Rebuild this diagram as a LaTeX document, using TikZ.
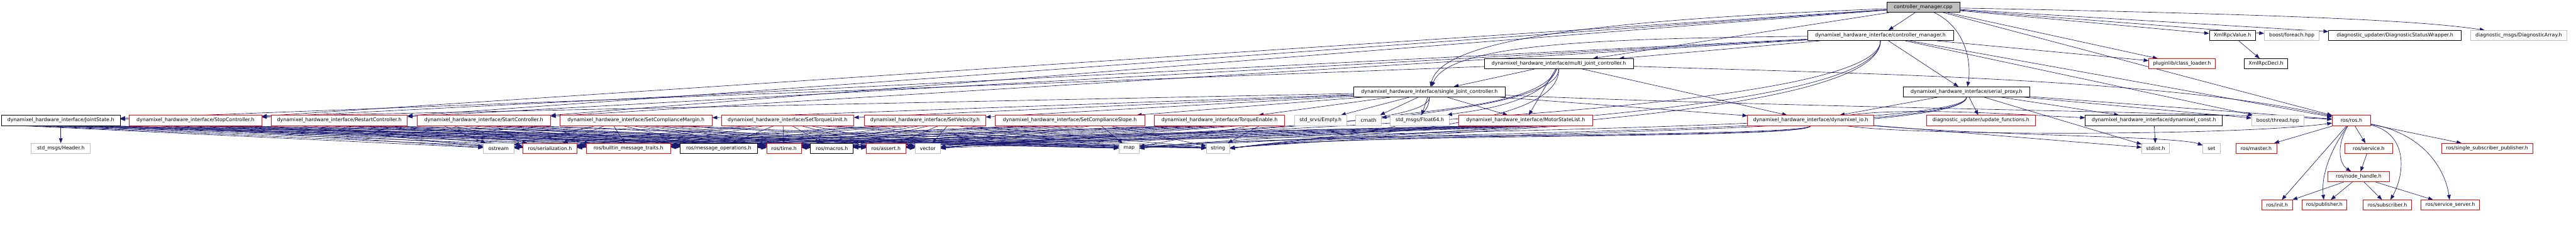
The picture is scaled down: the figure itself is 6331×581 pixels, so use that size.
\documentclass[tikz,border=0pt]{standalone}
\usepackage{fontspec}
\setmainfont{DejaVu Sans}
\usetikzlibrary{arrows.meta}
\pgfdeclarelayer{background}
\pgfsetlayers{background,main}
\definecolor{edgeblue}{HTML}{191970}
\definecolor{truncred}{HTML}{FF0000}
\definecolor{undocgray}{HTML}{BFBFBF}
\definecolor{rootfill}{HTML}{BFBFBF}
\tikzset{
  filebox/.style={draw=black,fill=white,line width=1.1pt,minimum height=25pt,
    inner sep=0pt,font=\fontsize{12.2}{14}\selectfont},
  docfile/.style={filebox},
  truncfile/.style={filebox,draw=truncred},
  extfile/.style={filebox,draw=undocgray},
  rootfile/.style={filebox,fill=rootfill},
  dep/.style={-{Triangle[length=12pt,width=9pt]},edgeblue,line width=1pt}
}
\newcommand{\hdr}[6]{%
  \node[#1,minimum width=#5pt] (#2) at (#3,#4) {#6};
}
\newcommand{\stdlink}[3]{%
  \draw[dep] (#1.south) .. controls +(0,#3) and +(300,-40) .. (#2.east);
}

\begin{document}
\begin{tikzpicture}[x=1pt,y=-1pt]
  \useasboundingbox (0,0) rectangle (6331,581);

  % Root file and its direct headers.
  \hdr{rootfile}{cpp}{4726.5}{18}{179}{controller\_manager.cpp}
  \hdr{docfile}{ctrlh}{4621.5}{87.5}{359}{dynamixel\_hardware\_interface/controller\_manager.h}
  \hdr{docfile}{xmlval}{5486.5}{87.5}{113}{XmlRpcValue.h}
  \hdr{extfile}{foreach}{5632.5}{87.5}{135}{boost/foreach.hpp}
  \hdr{docfile}{dsw}{5886}{87.5}{326}{diagnostic\_updater/DiagnosticStatusWrapper.h}
  \hdr{extfile}{darray}{6190}{87.5}{236}{diagnostic\_msgs/DiagnosticArray.h}

  % Controllers and proxy.
  \hdr{docfile}{multi}{3831}{157}{366}{dynamixel\_hardware\_interface/multi\_joint\_controller.h}
  \hdr{truncfile}{plugin}{5362.5}{157}{163}{pluginlib/class\_loader.h}
  \hdr{docfile}{xmldecl}{5569}{157}{106}{XmlRpcDecl.h}
  \hdr{docfile}{single}{3513}{226.5}{372}{dynamixel\_hardware\_interface/single\_joint\_controller.h}
  \hdr{docfile}{serial}{4833}{226.5}{310}{dynamixel\_hardware\_interface/serial\_proxy.h}

  % Messages, services and helpers.
  \hdr{docfile}{js}{149.5}{296.5}{291}{dynamixel\_hardware\_interface/JointState.h}
  \hdr{truncfile}{stop}{480.5}{296.5}{325}{dynamixel\_hardware\_interface/StopController.h}
  \hdr{truncfile}{restart}{834}{296.5}{334}{dynamixel\_hardware\_interface/RestartController.h}
  \hdr{truncfile}{start}{1189}{296.5}{328}{dynamixel\_hardware\_interface/StartController.h}
  \hdr{truncfile}{scm}{1563}{296.5}{374}{dynamixel\_hardware\_interface/SetComplianceMargin.h}
  \hdr{truncfile}{stl}{1935.5}{296.5}{325}{dynamixel\_hardware\_interface/SetTorqueLimit.h}
  \hdr{truncfile}{svel}{2273.5}{296.5}{297}{dynamixel\_hardware\_interface/SetVelocity.h}
  \hdr{truncfile}{scs}{2629}{296.5}{368}{dynamixel\_hardware\_interface/SetComplianceSlope.h}
  \hdr{truncfile}{ten}{2997}{296.5}{320}{dynamixel\_hardware\_interface/TorqueEnable.h}
  \hdr{extfile}{empty}{3245.5}{296.5}{129}{std\_srvs/Empty.h}
  \hdr{extfile}{cmath}{3363.5}{296.5}{63}{cmath}
  \hdr{extfile}{float}{3489.5}{296.5}{145}{std\_msgs/Float64.h}
  \hdr{truncfile}{msl}{3749.5}{296.5}{329}{dynamixel\_hardware\_interface/MotorStateList.h}
  \hdr{truncfile}{dynio}{4450}{296.5}{310}{dynamixel\_hardware\_interface/dynamixel\_io.h}
  \hdr{truncfile}{upd}{4868.5}{296.5}{267}{diagnostic\_updater/update\_functions.h}
  \hdr{docfile}{dconst}{5293.5}{296.5}{337}{dynamixel\_hardware\_interface/dynamixel\_const.h}
  \hdr{extfile}{bthread}{5598}{296.5}{128}{boost/thread.hpp}
  \hdr{truncfile}{ros}{5779}{296.5}{94}{ros/ros.h}

  % Leaf headers.
  \hdr{extfile}{header}{149.5}{365.5}{145}{std\_msgs/Header.h}
  \hdr{extfile}{ostream}{1225.5}{365.5}{75}{ostream}
  \hdr{truncfile}{ser}{1351.5}{365.5}{133}{ros/serialization.h}
  \hdr{truncfile}{bmt}{1544.5}{365.5}{207}{ros/builtin\_message\_traits.h}
  \hdr{docfile}{mops}{1766.5}{365.5}{189}{ros/message\_operations.h}
  \hdr{truncfile}{rtime}{1927}{365.5}{86}{ros/time.h}
  \hdr{docfile}{macros}{2044.5}{365.5}{105}{ros/macros.h}
  \hdr{truncfile}{rassert}{2177.5}{365.5}{97}{ros/assert.h}
  \hdr{extfile}{vector}{2280}{365.5}{62}{vector}
  \hdr{extfile}{map}{2775}{365.5}{50}{map}
  \hdr{extfile}{string}{2993.5}{365.5}{57}{string}
  \hdr{extfile}{stdint}{5298}{365.5}{68}{stdint.h}
  \hdr{extfile}{set}{5435}{365.5}{42}{set}
  \hdr{truncfile}{master}{5545}{365.5}{100}{ros/master.h}
  \hdr{truncfile}{service}{5821.5}{365.5}{117}{ros/service.h}
  \hdr{truncfile}{ssp}{6112.5}{365.5}{225}{ros/single\_subscriber\_publisher.h}
  \hdr{truncfile}{nh}{5797}{435.5}{152}{ros/node\_handle.h}
  \hdr{truncfile}{init}{5596.5}{505}{75}{ros/init.h}
  \hdr{truncfile}{pub}{5712.5}{505}{111}{ros/publisher.h}
  \hdr{truncfile}{sub}{5867.5}{505}{119}{ros/subscriber.h}
  \hdr{truncfile}{srvserver}{6022}{505}{144}{ros/service\_server.h}

  \begin{pgfonlayer}{background}
  \fill[white] (0,0) rectangle (6331,581);

  % controller_manager.cpp
  \draw[dep] (cpp) -- (ctrlh);
  \draw[dep] (cpp) .. controls (4835,70) and (4845,160) .. (serial);
  \draw[dep] (cpp) -- (multi);
  \draw[dep] (cpp) .. controls (3900,50) and (3540,100) .. (single);
  \draw[dep] (cpp) -- (stop);
  \draw[dep] (cpp) -- (restart);
  \draw[dep] (cpp) -- (start);
  \draw[dep] (cpp) -- (plugin);
  \draw[dep] (cpp) -- (ros);
  \draw[dep] (cpp) -- (xmlval);
  \draw[dep] (cpp) -- (foreach);
  \draw[dep] (cpp) -- (dsw);
  \draw[dep] (cpp) .. controls (5600,35) and (5950,50) .. (darray);

  % controller_manager.h
  \draw[dep] (ctrlh) -- (multi);
  \draw[dep] (ctrlh) .. controls (3900,95) and (3560,110) .. (single);
  \draw[dep] (ctrlh) -- (serial);
  \draw[dep] (ctrlh) -- (stop);
  \draw[dep] (ctrlh) -- (restart);
  \draw[dep] (ctrlh) -- (start);
  \draw[dep] (ctrlh) -- (plugin);
  \draw[dep] (ctrlh) -- (ros);
  \draw[dep] (ctrlh) -- (bthread);
  \stdlink{ctrlh}{vector}{200}
  \stdlink{ctrlh}{map}{200}
  \stdlink{ctrlh}{string}{200}

  % multi_joint_controller.h
  \draw[dep] (multi) -- (single);
  \draw[dep] (multi) -- (js);
  \draw[dep] (multi) .. controls (3790,260) and (3500,270) .. (cmath);
  \draw[dep] (multi) .. controls (3790,260) and (3600,275) .. (float);
  \draw[dep] (multi) -- (msl);
  \draw[dep] (multi) -- (dynio);
  \draw[dep] (multi) .. controls (4500,180) and (5300,190) .. (ros);
  \stdlink{multi}{vector}{150}
  \stdlink{multi}{string}{150}

  % single_joint_controller.h
  \draw[dep] (single) -- (js);
  \draw[dep] (single) -- (scm);
  \draw[dep] (single) -- (stl);
  \draw[dep] (single) -- (svel);
  \draw[dep] (single) -- (scs);
  \draw[dep] (single) -- (ten);
  \draw[dep] (single) -- (empty);
  \draw[dep] (single) -- (cmath);
  \draw[dep] (single) -- (float);
  \draw[dep] (single) -- (msl);
  \draw[dep] (single) -- (dynio);
  \draw[dep] (single) .. controls (4400,265) and (5400,275) .. (ros);
  \stdlink{single}{vector}{90}
  \stdlink{single}{string}{90}

  % serial_proxy.h
  \draw[dep] (serial) -- (upd);
  \draw[dep] (serial) -- (dynio);
  \draw[dep] (serial) -- (dconst);
  \draw[dep] (serial) -- (bthread);
  \draw[dep] (serial) -- (ros);
  \draw[dep] (serial) -- (stdint);
  \stdlink{serial}{vector}{95}
  \stdlink{serial}{map}{95}
  \stdlink{serial}{string}{95}

  % dynamixel_io.h
  \draw[dep] (dynio) .. controls (4700,262) and (5000,285) .. (dconst);
  \draw[dep] (dynio) .. controls (4700,335) and (5500,335) .. (ros);
  \draw[dep] (dynio) -- (stdint);
  \draw[dep] (dynio) .. controls (4900,335) and (5350,335) .. (set);
  \stdlink{dynio}{vector}{35}
  \stdlink{dynio}{map}{35}
  \stdlink{dynio}{string}{35}
  \draw[dep] (dconst) -- (stdint);

  % generated message and service headers
  \foreach \m in {js,stop,restart,start,scm,stl,svel,scs,ten,msl}{
    \foreach \t [count=\i] in {ostream,ser,bmt,mops,rtime,macros,rassert,vector,map,string}{
      \draw[dep] ([xshift={(\i-5.5)*22pt}]\m.south) -- (\t);
    }
  }
  \draw[dep] (js) -- (header);
  \draw[dep] (xmlval) -- (xmldecl);

  % ros/ros.h
  \draw[dep] (ros) -- (master);
  \draw[dep] (ros) -- (service);
  \draw[dep] (ros) -- (ssp);
  \draw[dep] (ros) -- (init);
  \draw[dep] (ros) .. controls (5745,350) and (5745,400) .. (nh);
  \draw[dep] (ros) .. controls (5720,380) and (5705,440) .. (pub);
  \draw[dep] (ros) .. controls (5920,330) and (5910,430) .. (sub);
  \draw[dep] (ros) .. controls (5960,330) and (6010,420) .. (srvserver);
  \draw[dep] (service) -- (nh);
  \draw[dep] (nh) -- (init);
  \draw[dep] (nh) -- (pub);
  \draw[dep] (nh) -- (sub);
  \draw[dep] (nh) -- (srvserver);
  \end{pgfonlayer}
\end{tikzpicture}
\end{document}
